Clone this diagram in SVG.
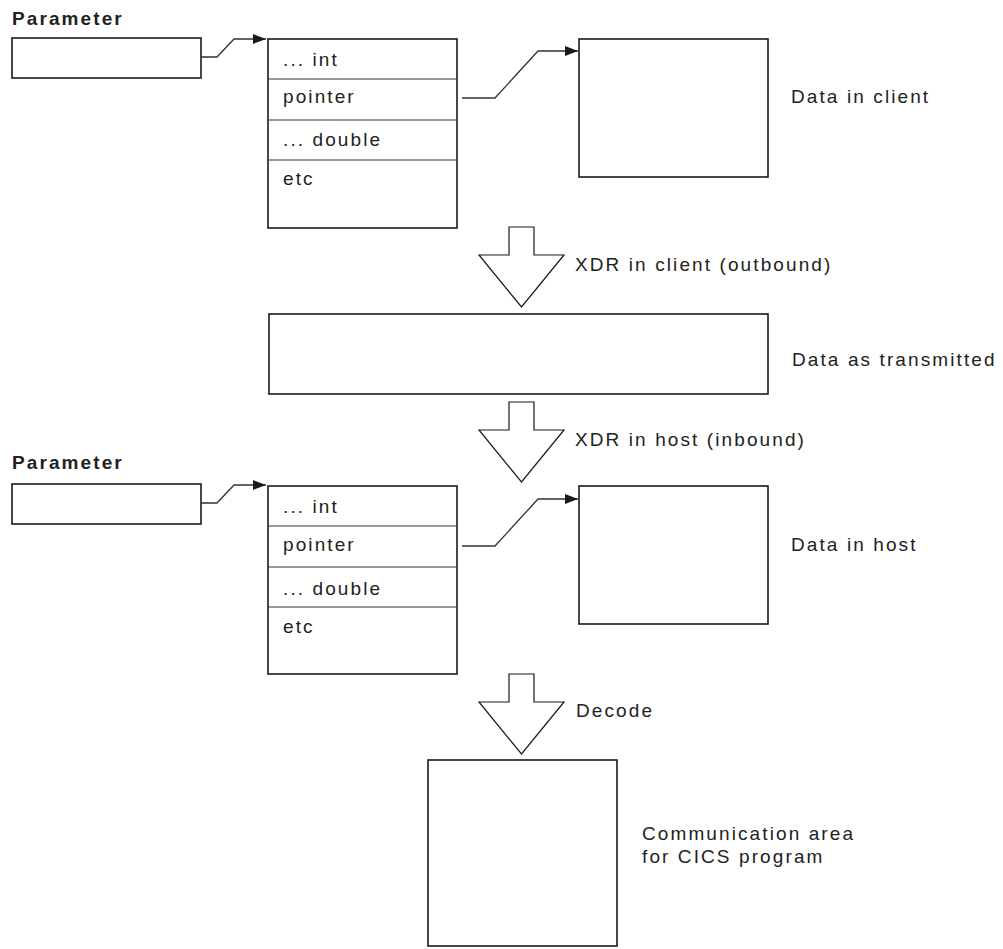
<svg xmlns="http://www.w3.org/2000/svg" width="1003" height="949" viewBox="0 0 1003 949">
<defs>
<style>
.box{fill:#fff;stroke:#1a1a1a;stroke-width:1.6}
.div{stroke:#333;stroke-width:1.2;fill:none}
.con{fill:none;stroke:#333;stroke-width:1.3}
.blk{fill:#fff;stroke:#1a1a1a;stroke-width:1.2;stroke-linejoin:miter}
text{font-family:"Liberation Sans",Arial,Helvetica,sans-serif;font-size:19px;letter-spacing:2.1px;fill:#222}
.b{font-weight:bold;letter-spacing:2.1px}
</style>
<marker id="ah" viewBox="0 0 13 10" refX="13" refY="5" markerWidth="13" markerHeight="10" markerUnits="userSpaceOnUse" orient="auto">
<path d="M0,0 L13,5 L0,10 Z" fill="#1a1a1a"/>
</marker>
<path id="blkarrow" d="M509,0 H534 V28 H564 L521.5,80 L479,28 H509 Z"/>
</defs>

<g id="param1">
<text class="b" x="12" y="25">Parameter</text>
<rect class="box" x="12" y="38" width="189" height="40"/>
</g>

<g id="struct1">
<rect class="box" x="268" y="39" width="189" height="189"/>
<line class="div" x1="268" y1="79" x2="457" y2="79"/>
<line class="div" x1="268" y1="120" x2="457" y2="120"/>
<line class="div" x1="268" y1="160" x2="457" y2="160"/>
<text x="283" y="66">... int</text>
<text x="283" y="103">pointer</text>
<text x="283" y="146">... double</text>
<text x="283" y="185">etc</text>
</g>

<g id="client-data">
<rect class="box" x="579" y="39" width="189" height="138"/>
<text x="791" y="103">Data in client</text>
</g>

<g id="xdr-client">
<use href="#blkarrow" class="blk" transform="translate(0,227)"/>
<text x="575" y="271">XDR in client (outbound)</text>
</g>

<g id="transmitted">
<rect class="box" x="269" y="314" width="499" height="80"/>
<text x="792" y="366">Data as transmitted</text>
</g>

<g id="xdr-host">
<use href="#blkarrow" class="blk" transform="translate(0,402)"/>
<text x="575" y="446">XDR in host (inbound)</text>
</g>

<g id="param2">
<text class="b" x="12" y="469">Parameter</text>
<rect class="box" x="12" y="484" width="189" height="40"/>
</g>

<g id="struct2">
<rect class="box" x="268" y="486" width="189" height="188"/>
<line class="div" x1="268" y1="526" x2="457" y2="526"/>
<line class="div" x1="268" y1="567" x2="457" y2="567"/>
<line class="div" x1="268" y1="607" x2="457" y2="607"/>
<text x="283" y="513">... int</text>
<text x="283" y="551">pointer</text>
<text x="283" y="595">... double</text>
<text x="283" y="633">etc</text>
</g>

<g id="host-data">
<rect class="box" x="579" y="486" width="189" height="138"/>
<text x="791" y="551">Data in host</text>
</g>

<g id="decode">
<use href="#blkarrow" class="blk" transform="translate(0,674)"/>
<text x="576" y="717">Decode</text>
</g>

<g id="commarea">
<rect class="box" x="428" y="760" width="189" height="186"/>
<text x="642" y="840">Communication area</text>
<text x="642" y="863">for CICS program</text>
</g>

<g id="connectors">
<path class="con" d="M201,57 H217 L234,39 H266" marker-end="url(#ah)"/>
<path class="con" d="M462,98 H495 L538,51 H578" marker-end="url(#ah)"/>
<path class="con" d="M201,503 H217 L234,485 H266" marker-end="url(#ah)"/>
<path class="con" d="M462,546 H495 L538,499 H578" marker-end="url(#ah)"/>
</g>
</svg>
